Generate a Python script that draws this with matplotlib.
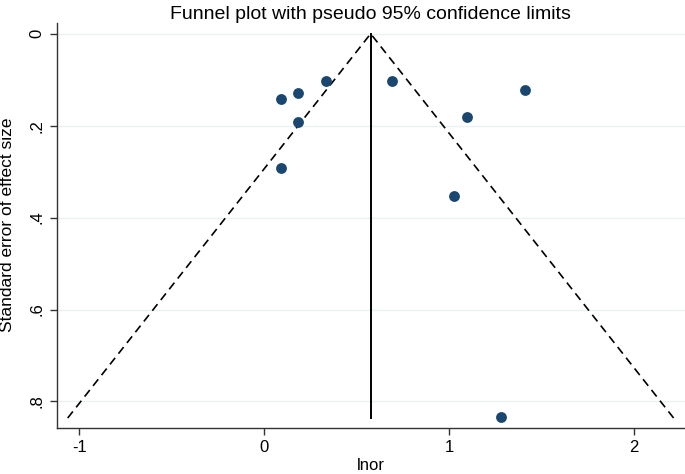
import matplotlib
matplotlib.use("Agg")
import matplotlib.pyplot as plt
import numpy as np

# Data
lnor = [0.092, 0.181, 0.334, 0.181, 0.092, 0.691, 1.409, 1.097, 1.028, 1.279]
se = [0.142, 0.130, 0.103, 0.191, 0.293, 0.103, 0.123, 0.182, 0.353, 0.834]
pooled = 0.576
se_max = 0.836
xticks = [-1, 0, 1, 2]
xticklabels = ["-1", "0", "1", "2"]
yticks = [0, 0.2, 0.4, 0.6, 0.8]
yticklabels = ["0", ".2", ".4", ".6", ".8"]
title = "Funnel plot with pseudo 95% confidence limits"
xlabel = "lnor"
ylabel = "Standard error of effect size"

plt.rcParams['font.family'] = ['Liberation Sans', 'DejaVu Sans']

fig = plt.figure(figsize=(6.85, 4.74), dpi=100)
ax = fig.add_axes([56.7/685, (474-427.7)/474, 1 - 56.7/685, (427.7-22.7)/474])

for yt in yticks:
    ax.axhline(yt, color="#eaf2f3", lw=1.0, zorder=0)

# pseudo 95% limits
ax.plot([pooled - 1.96*se_max, pooled, pooled + 1.96*se_max], [se_max, 0, se_max],
        color="black", lw=1.2, ls=(0, (5, 3.2)), zorder=2)
ax.plot([pooled, pooled], [0, se_max], color="black", lw=1.4, zorder=2)

ax.plot(lnor, se, "o", color="#1a476f", markersize=7.8, markeredgewidth=0, zorder=3)

ax.set_xlim(-1.122, 2.276)
ax.set_ylim(0.857, -0.024)

ax.set_xticks(xticks)
ax.set_xticklabels(xticklabels)
ax.set_yticks(yticks)
ax.set_yticklabels(yticklabels, rotation=90, va="center")
ax.tick_params(axis="both", length=5, width=1, color="#333333", labelsize=12, pad=4)

for s in ["top", "right"]:
    ax.spines[s].set_visible(False)
for s in ["left", "bottom"]:
    ax.spines[s].set_linewidth(1.0)
    ax.spines[s].set_color("#333333")

ax.set_xlabel(xlabel, fontsize=12, labelpad=2)
ax.set_ylabel(ylabel, fontsize=12.5)
ax.yaxis.set_label_coords(-0.066, 0.5)
ax.set_title(title, fontsize=14, pad=3)

fig.savefig("out.png", dpi=100)
